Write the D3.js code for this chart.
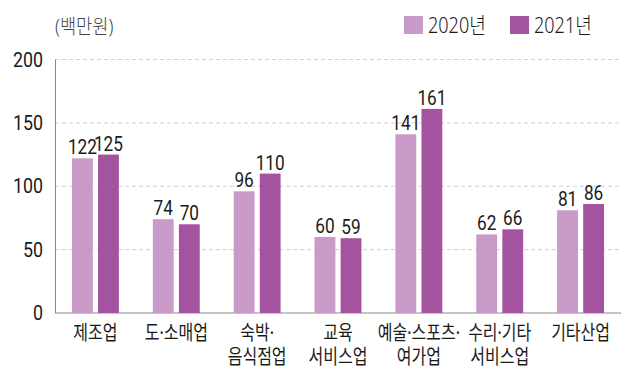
<!DOCTYPE html>
<html>
<head>
<meta charset="utf-8">
<script src="https://cdn.jsdelivr.net/npm/d3@7"></script>
<style>
  body { margin: 0; background: #fff; }
  svg { display: block; }
</style>
</head>
<body>
<svg id="chart" width="640" height="384"></svg>
<script>
// chart data
var categories = ["제조업", "도·소매업", "숙박·\n음식점업", "교육\n서비스업", "예술·스포츠·\n여가업", "수리·기타\n서비스업", "기타산업"];
var seriesNames = ["2020년", "2021년"];
var values2020 = [122, 74, 96, 60, 141, 62, 81];
var values2021 = [125, 70, 110, 59, 161, 66, 86];
var yTicks = [0, 50, 100, 150, 200];
var unitLabel = "(백만원)";

var colors = ["#c99ac7", "#a4549f"];
var numFont = "Roboto, 'Noto Sans', sans-serif";
var krFont = "'Noto Sans', 'Noto Sans CJK KR', sans-serif";

var svg = d3.select("svg#chart");
var plotLeft = 55, plotRight = 621, plotTop = 59.5, plotBottom = 313;

// scales
var x0 = d3.scaleBand().domain(categories).range([plotLeft, plotRight])
    .paddingInner(0.42).paddingOuter(0.21);
var x1 = d3.scaleBand().domain(seriesNames).range([0, x0.bandwidth()])
    .paddingInner(0.2);
var y = d3.scaleLinear().domain([0, 200]).range([plotBottom, plotTop]);

// gridlines (dashed)
svg.append("g")
    .selectAll("line")
    .data(yTicks.filter(function(d) { return d > 0; }))
  .join("line")
    .attr("x1", plotLeft).attr("x2", plotRight)
    .attr("y1", function(d) { return y(d); })
    .attr("y2", function(d) { return y(d); })
    .attr("stroke", "#cfcfcf")
    .attr("stroke-width", 1)
    .attr("stroke-dasharray", "4,3");

// y axis
var yAxis = svg.append("g")
    .attr("transform", "translate(" + plotLeft + ",0)")
    .call(d3.axisLeft(y).tickValues(yTicks).tickSize(0).tickPadding(14));
yAxis.select(".domain").attr("stroke", "#8a8a8a").attr("d", "M0.5," + y(0) + "V" + y(200));
yAxis.selectAll("text")
    .attr("fill", "#1a1a1a")
    .style("font-family", numFont)
    .style("font-size", "21px")
    .attr("transform", "scale(0.85,1)");

// baseline
svg.append("line")
    .attr("x1", plotLeft).attr("x2", plotRight)
    .attr("y1", y(0)).attr("y2", y(0))
    .attr("stroke", "#8a8a8a").attr("stroke-width", 1.2);

// bars
var rows = categories.map(function(c, i) {
  return { cat: c, vals: [values2020[i], values2021[i]] };
});

var groups = svg.append("g")
    .selectAll("g")
    .data(rows)
  .join("g")
    .attr("transform", function(d) { return "translate(" + x0(d.cat) + ",0)"; });

groups.selectAll("rect")
    .data(function(d) { return d.vals.map(function(v, j) { return { s: seriesNames[j], v: v, j: j }; }); })
  .join("rect")
    .attr("x", function(d) { return x1(d.s); })
    .attr("y", function(d) { return y(d.v); })
    .attr("width", x1.bandwidth())
    .attr("height", function(d) { return y(0) - y(d.v); })
    .attr("fill", function(d) { return colors[d.j]; });

// value labels
groups.selectAll("text")
    .data(function(d) { return d.vals.map(function(v, j) { return { s: seriesNames[j], v: v }; }); })
  .join("text")
    .attr("transform", function(d) {
      return "translate(" + (x1(d.s) + x1.bandwidth() / 2) + "," + (y(d.v) - 4) + ") scale(0.82,1)";
    })
    .attr("text-anchor", "middle")
    .attr("fill", "#1a1a1a")
    .style("font-family", numFont)
    .style("font-size", "21px")
    .text(function(d) { return d.v; });

// category labels
var catLabels = svg.append("g")
    .selectAll("text")
    .data(categories)
  .join("text")
    .attr("transform", function(d) {
      return "translate(" + (x0(d) + x0.bandwidth() / 2) + ",340) scale(0.8,1)";
    })
    .attr("text-anchor", "middle")
    .attr("fill", "#1a1a1a")
    .style("font-family", krFont)
    .style("font-size", "20px");

catLabels.selectAll("tspan")
    .data(function(d) { return d.split("\n"); })
  .join("tspan")
    .attr("x", 0)
    .attr("dy", function(d, i) { return i === 0 ? 0 : 24; })
    .text(function(d) { return d; });

// unit label
svg.append("text")
    .attr("transform", "translate(55,34) scale(0.88,1)")
    .attr("fill", "#444")
    .style("font-family", krFont)
    .style("font-size", "20px")
    .style("font-weight", 300)
    .text(unitLabel);

// legend
var legendX = [404, 510];
var legend = svg.append("g")
    .selectAll("g")
    .data(seriesNames)
  .join("g")
    .attr("transform", function(d, i) { return "translate(" + legendX[i] + ",16)"; });

legend.append("rect")
    .attr("width", 19).attr("height", 18)
    .attr("fill", function(d, i) { return colors[i]; });

legend.append("text")
    .attr("transform", "translate(24,17) scale(0.82,1)")
    .attr("fill", "#1a1a1a")
    .style("font-family", krFont)
    .style("font-size", "22px")
    .style("font-weight", 300)
    .text(function(d) { return d; });
</script>
</body>
</html>
